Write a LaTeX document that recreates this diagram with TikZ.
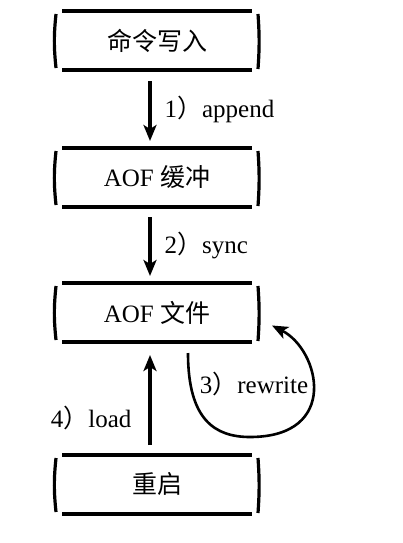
\documentclass[tikz,border=0pt]{standalone}
\usepackage{fontspec}
\setmainfont{Liberation Serif}
\newfontfamily\cjk{Noto Sans CJK SC}
\usetikzlibrary{arrows.meta,positioning}

\begin{document}
\begin{tikzpicture}[x=1pt,y=1pt,line width=3.2pt,font=\fontsize{25}{29}\selectfont,
    aofbox/.style={minimum width=202pt,minimum height=59pt,inner sep=0pt,outer sep=0pt,
      append after command={
        ([xshift=6pt]\tikzlastnode.north west) edge ([xshift=-6pt]\tikzlastnode.north east)
        ([xshift=6pt]\tikzlastnode.south west) edge ([xshift=-6pt]\tikzlastnode.south east)
        ([yshift=-3pt]\tikzlastnode.north west) edge[bend right=6] ([yshift=2pt]\tikzlastnode.south west)
        ([yshift=-3pt]\tikzlastnode.north east) edge[bend left=4] ([yshift=1pt]\tikzlastnode.south east)}},
    flow/.style={-{Stealth[length=16pt,width=13pt,inset=4pt]}}]
      \useasboundingbox (0,0) rectangle (403,-543);

      \node[aofbox] (cmd) at (157,-40.5) {\cjk 命令写入};
      \node[aofbox] (buf) [below=78pt of cmd] {AOF {\cjk 缓冲}};
      \node[aofbox] (file) [below=76pt of buf] {AOF {\cjk 文件}};
      \node[aofbox] (restart) [below=113pt of file] {\cjk 重启};

      \draw[flow,shorten <=11pt,shorten >=7pt] ([xshift=-7pt]cmd.south) -- ([xshift=-7pt]buf.north)
        node[midway,right=13pt,inner sep=0pt] {1{\cjk ）}append};
      \draw[flow,shorten <=10pt,shorten >=7pt] ([xshift=-7pt]buf.south) -- ([xshift=-7pt]file.north)
        node[midway,right=13pt,inner sep=0pt] {2{\cjk ）}sync};
      \draw[flow,line width=2.6pt] ([xshift=31pt,yshift=-11pt]file.south)
        .. controls (188,-420) and (215,-437) .. (250,-437)
        .. controls (340,-437) and (320,-350) .. ([xshift=14pt,yshift=-13pt]file.east);
      \node (rw) at (254,-384) {3{\cjk ）}rewrite};
      \draw[flow,shorten <=10pt,shorten >=13pt] ([xshift=-7pt]restart.north) -- ([xshift=-7pt]file.south)
        node[pos=0.33,left=17pt,inner sep=0pt] {4{\cjk ）}load};
\end{tikzpicture}
\end{document}
